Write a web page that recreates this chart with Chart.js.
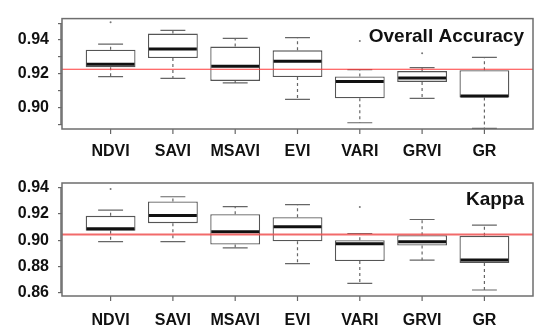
<!DOCTYPE html>
<html lang="en">
<head>
<meta charset="UTF-8">
<title>Boxplots</title>
<style>
  body { margin: 0; background: #fff; }
  canvas { position: absolute; left: 0; }
</style>
</head>
<body>
<canvas id="oaChart" width="550" height="160" style="top:0"></canvas>
<canvas id="kChart" width="550" height="172" style="top:160px"></canvas>

<script src="https://cdn.jsdelivr.net/npm/chart.js"></script>
<script>
// categories
const indices = ['NDVI', 'SAVI', 'MSAVI', 'EVI', 'VARI', 'GRVI', 'GR'];

// Overall Accuracy
const oaLow = [0.9183, 0.9173, 0.9146, 0.9049, 0.8910, 0.9055, 0.8877];
const oaQ1  = [0.9239, 0.9293, 0.9158, 0.9181, 0.9055, 0.9152, 0.9059];
const oaMed = [0.9256, 0.9347, 0.9245, 0.9274, 0.9154, 0.9175, 0.9068];
const oaQ3  = [0.9343, 0.9438, 0.9361, 0.9339, 0.9184, 0.9216, 0.9221];
const oaHigh = [0.9376, 0.9457, 0.9410, 0.9414, 0.9225, 0.9237, 0.9297];
const oaOut = [[0.9505], [], [], [], [0.9395], [0.9322], []];
const oaMean = 0.9227;
const oaTicks = [0.89, 0.90, 0.91, 0.92, 0.93, 0.94, 0.95];
const oaLabels = ['0.90', '0.92', '0.94'];

// Kappa
const kLow = [0.8989, 0.8989, 0.8941, 0.8821, 0.8670, 0.8847, 0.8619];
const kQ1  = [0.9071, 0.9130, 0.8966, 0.8992, 0.8841, 0.8959, 0.8826];
const kMed = [0.9087, 0.9189, 0.9064, 0.9102, 0.8972, 0.8987, 0.8849];
const kQ3  = [0.9186, 0.9296, 0.9199, 0.9176, 0.9000, 0.9038, 0.9033];
const kHigh = [0.9230, 0.9332, 0.9257, 0.9271, 0.9051, 0.9158, 0.9115];
const kOut = [[0.9391], [], [], [], [0.9253], [], []];
const kMean = 0.9043;
const kTicks = [0.86, 0.88, 0.90, 0.92, 0.94];
const kLabels = ['0.86', '0.88', '0.90', '0.92', '0.94'];

const FONT = '"Liberation Sans", Arial, sans-serif';

// whiskers, medians, outliers, mean line and panel title
const boxExtras = {
    id: 'boxExtras',
    afterDatasetsDraw(chart, args, o) {
        const ctx = chart.ctx;
        const a = chart.chartArea;
        const x = chart.scales.x, y = chart.scales.y;
        const half = chart.getDatasetMeta(0).data[0].width / 2;
        ctx.save();
        for (let i = 0; i < indices.length; i++) {
            const cx = x.getPixelForValue(i + 1);
            // dashed whiskers
            ctx.strokeStyle = '#666';
            ctx.lineWidth = 1.2;
            ctx.setLineDash([3, 3]);
            ctx.beginPath();
            ctx.moveTo(cx, y.getPixelForValue(o.q3[i]));
            ctx.lineTo(cx, y.getPixelForValue(o.high[i]));
            ctx.moveTo(cx, y.getPixelForValue(o.q1[i]));
            ctx.lineTo(cx, y.getPixelForValue(o.low[i]));
            ctx.stroke();
            ctx.setLineDash([]);
            // caps
            ctx.beginPath();
            ctx.moveTo(cx - half / 2, y.getPixelForValue(o.high[i]));
            ctx.lineTo(cx + half / 2, y.getPixelForValue(o.high[i]));
            ctx.moveTo(cx - half / 2, y.getPixelForValue(o.low[i]));
            ctx.lineTo(cx + half / 2, y.getPixelForValue(o.low[i]));
            ctx.stroke();
            // x tick mark below frame
            ctx.beginPath();
            ctx.moveTo(cx, a.bottom);
            ctx.lineTo(cx, a.bottom + 5);
            ctx.stroke();
            // median
            ctx.strokeStyle = '#111';
            ctx.lineWidth = 3;
            ctx.beginPath();
            ctx.moveTo(cx - half + 1, y.getPixelForValue(o.med[i]));
            ctx.lineTo(cx + half - 1, y.getPixelForValue(o.med[i]));
            ctx.stroke();
            // outliers
            ctx.fillStyle = '#777';
            o.out[i].forEach(v => {
                ctx.beginPath();
                ctx.arc(cx, y.getPixelForValue(v), 1, 0, Math.PI * 2);
                ctx.fill();
            });
        }
        // mean line
        ctx.strokeStyle = o.meanColor;
        ctx.lineWidth = o.meanWidth;
        ctx.beginPath();
        ctx.moveTo(a.left, y.getPixelForValue(o.mean));
        ctx.lineTo(a.right, y.getPixelForValue(o.mean));
        ctx.stroke();
        // frame
        ctx.strokeStyle = '#6e6e6e';
        ctx.lineWidth = 1.5;
        ctx.strokeRect(a.left, a.top, a.right - a.left, a.bottom - a.top);
        // y axis line
        const t = y.ticks;
        ctx.beginPath();
        ctx.moveTo(a.left - 1, y.getPixelForValue(t[0].value));
        ctx.lineTo(a.left - 1, y.getPixelForValue(t[t.length - 1].value));
        ctx.stroke();
        // title
        ctx.fillStyle = '#111';
        ctx.font = 'bold 19px ' + FONT;
        ctx.textAlign = 'right';
        ctx.textBaseline = 'alphabetic';
        ctx.fillText(o.title, a.right - 9, a.top + o.titleDrop);
        ctx.restore();
    }
};

function makeChart(id, s) {
    new Chart(document.getElementById(id), {
        type: 'bar',
        data: {
            datasets: [{
                data: indices.map((n, i) => ({ x: i + 1, y: [s.q1[i], s.q3[i]] })),
                backgroundColor: '#fff',
                borderColor: '#555',
                borderWidth: 1.3,
                borderSkipped: false,
                categoryPercentage: 0.8,
                barPercentage: 1
            }]
        },
        options: {
            responsive: false,
            animation: false,
            layout: { padding: { top: s.padTop, right: 17, left: 0, bottom: 0 } },
            plugins: {
                legend: { display: false },
                tooltip: { enabled: false },
                boxExtras: s
            },
            scales: {
                x: {
                    type: 'linear',
                    min: 0.22,
                    max: 7.78,
                    offset: false,
                    afterBuildTicks: sc => { sc.ticks = indices.map((n, i) => ({ value: i + 1 })); },
                    afterFit: sc => { sc.height = s.xHeight; },
                    ticks: {
                        callback: v => indices[v - 1],
                        autoSkip: false,
                        maxRotation: 0,
                        padding: s.xPad,
                        color: '#111',
                        font: { family: FONT, size: 16, weight: 'bold' }
                    },
                    grid: { display: false, tickLength: 5 },
                    border: { display: false }
                },
                y: {
                    min: s.yMin,
                    max: s.yMax,
                    afterBuildTicks: sc => { sc.ticks = s.ticks.map(v => ({ value: v })); },
                    afterFit: sc => { sc.width = 62; },
                    ticks: {
                        callback: v => {
                            const l = v.toFixed(2);
                            return s.labels.includes(l) ? l : '';
                        },
                        autoSkip: false,
                        padding: 9,
                        color: '#111',
                        font: { family: FONT, size: 16, weight: 'bold' }
                    },
                    grid: { drawOnChartArea: false, tickLength: 4, color: '#666', lineWidth: 1.2 },
                    border: { display: false }
                }
            }
        },
        plugins: [boxExtras]
    });
}

makeChart('oaChart', {
    low: oaLow, q1: oaQ1, med: oaMed, q3: oaQ3, high: oaHigh, out: oaOut,
    mean: oaMean, meanColor: '#ff3b3b', meanWidth: 1.2,
    yMin: 0.8873, yMax: 0.9527, ticks: oaTicks, labels: oaLabels,
    title: 'Overall Accuracy', titleDrop: 23,
    padTop: 15, xHeight: 31, xPad: 8
});

makeChart('kChart', {
    low: kLow, q1: kQ1, med: kMed, q3: kQ3, high: kHigh, out: kOut,
    mean: kMean, meanColor: 'rgba(240, 80, 80, 0.85)', meanWidth: 2,
    yMin: 0.8573, yMax: 0.9437, ticks: kTicks, labels: kLabels,
    title: 'Kappa', titleDrop: 22,
    padTop: 23, xHeight: 36, xPad: 10
});
</script>
</body>
</html>
